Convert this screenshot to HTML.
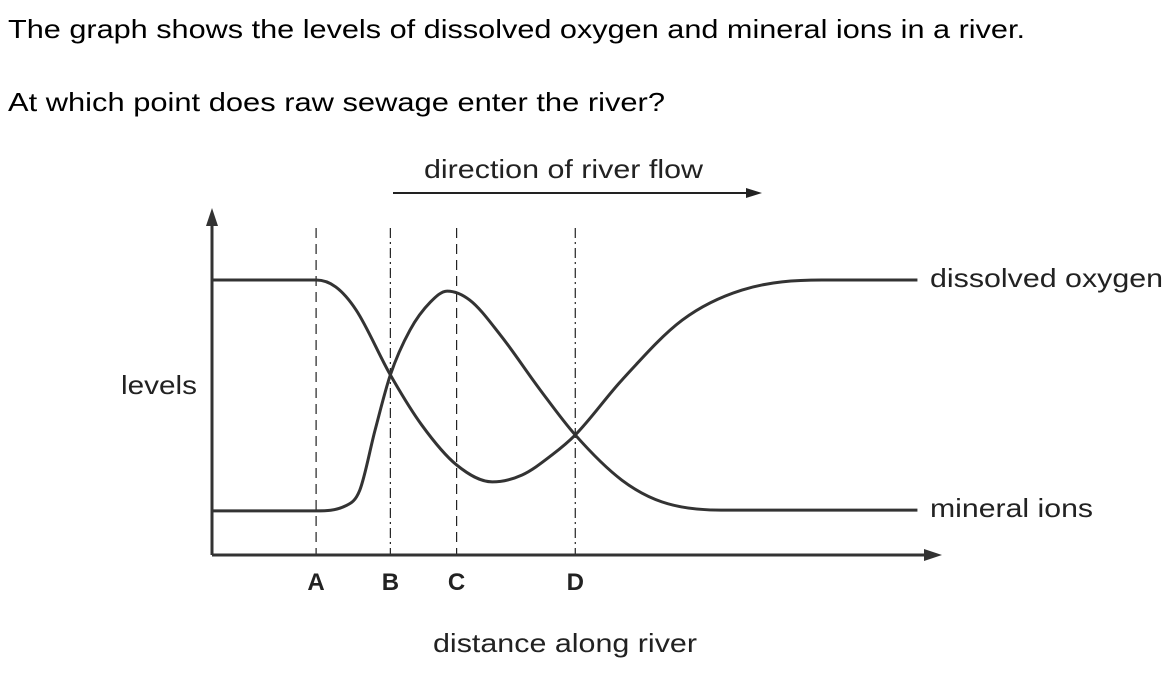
<!DOCTYPE html>
<html><head><meta charset="utf-8"><style>
body{margin:0;background:#fff;width:1176px;height:671px;overflow:hidden;font-family:"Liberation Sans",sans-serif}
</style></head><body>
<svg width="1176" height="671" font-family="Liberation Sans, sans-serif">
<text x="8" y="38" font-size="26" textLength="1017" lengthAdjust="spacingAndGlyphs">The graph shows the levels of dissolved oxygen and mineral ions in a river.</text>
<text x="8" y="111" font-size="26" textLength="657" lengthAdjust="spacingAndGlyphs">At which point does raw sewage enter the river?</text>
<text x="424" y="178" font-size="26" textLength="279" lengthAdjust="spacingAndGlyphs" fill="#222">direction of river flow</text>
<line x1="393" y1="193" x2="748" y2="193" stroke="#222" stroke-width="2"/>
<polygon points="762,193 746,188 746,198" fill="#222"/>
<g id="plot"></g>
<text x="121" y="394" font-size="26" textLength="76" lengthAdjust="spacingAndGlyphs" fill="#222">levels</text>
<text x="433" y="652" font-size="26" textLength="264" lengthAdjust="spacingAndGlyphs" fill="#222">distance along river</text>
<text x="930" y="287" font-size="26" textLength="233" lengthAdjust="spacingAndGlyphs" fill="#222">dissolved oxygen</text>
<text x="930" y="517" font-size="26" textLength="163" lengthAdjust="spacingAndGlyphs" fill="#222">mineral ions</text>
</svg>
<script>
const markerNames=["A","B","C","D"];
const markerPos=[14.3,24.5,33.6,49.9];
const markerStyle=["10,6","10,4,2,4","10,6","10,4,2,4"];
const oxyD=[0,14.3,17,19.8,24.5,28.8,33.6,38.5,42.6,46.7,49.9,56.3,64.6,72.8,83.8,96.9];
const oxyL=[79.7,79.7,77.7,71,52.2,37.7,26.1,21.2,23.2,29,34.8,50.7,68.1,76.8,79.7,79.7];
const minD=[0,14.3,18.3,20.3,22.4,24.5,27.2,30,32.3,35.4,39.6,45.1,49.9,56.3,61.8,69.9,96.9];
const minL=[12.8,12.8,14.2,18.8,36.2,52.2,65.2,73.3,76.5,73.9,63.8,47.8,34.8,21.7,15.4,13,13];
const X=d=>212+d*7.28, Y=l=>555-l*3.45;
const NS="http://www.w3.org/2000/svg", g=document.getElementById('plot');
function mk(t,a){const e=document.createElementNS(NS,t);for(const k in a)e.setAttribute(k,a[k]);g.appendChild(e);return e;}
markerPos.forEach((d,i)=>{
 const l=mk('line',{x1:X(d),x2:X(d),y1:228,y2:555,stroke:'#222','stroke-width':1.2,'stroke-dasharray':markerStyle[i]});
 
 
 const t=mk('text',{x:X(d),y:590,'font-size':24,'font-weight':'bold','text-anchor':'middle',fill:'#222'});
 t.textContent=markerNames[i];
 
 
});
function path(ds,ls){
 const xs=ds.map(X), ys=ls.map(Y), n=xs.length;
 const dl=[],m=[];
 for(let i=0;i<n-1;i++)dl.push((ys[i+1]-ys[i])/(xs[i+1]-xs[i]));
 m[0]=dl[0];m[n-1]=dl[n-2];
 for(let i=1;i<n-1;i++){ if(dl[i-1]*dl[i]<=0)m[i]=0; else m[i]=(dl[i-1]+dl[i])/2; }
 for(let i=0;i<n-1;i++){ if(dl[i]===0){m[i]=0;m[i+1]=0;continue;}
  const a=m[i]/dl[i],b=m[i+1]/dl[i],h=a*a+b*b; if(h>9){const t=3/Math.sqrt(h);m[i]=t*a*dl[i];m[i+1]=t*b*dl[i];}}
 let s=`M${xs[0]},${ys[0]}`;
 for(let i=0;i<n-1;i++){const h=(xs[i+1]-xs[i])/3;
  s+=` C${xs[i]+h},${ys[i]+m[i]*h} ${xs[i+1]-h},${ys[i+1]-m[i+1]*h} ${xs[i+1]},${ys[i+1]}`;}
 return s;}
const o=mk('path',{d:path(oxyD,oxyL),fill:'none',stroke:'#333','stroke-width':3});


const m=mk('path',{d:path(minD,minL),fill:'none',stroke:'#333','stroke-width':3});


const ya=mk('line',{x1:212,y1:555,x2:212,y2:222,stroke:'#333','stroke-width':3});


mk('polygon',{points:'212,208 206,226 218,226',fill:'#333'});
const xa=mk('line',{x1:212,y1:555,x2:928,y2:555,stroke:'#333','stroke-width':3});


mk('polygon',{points:'942,555 924,549 924,561',fill:'#333'});
</script>
</body></html>
